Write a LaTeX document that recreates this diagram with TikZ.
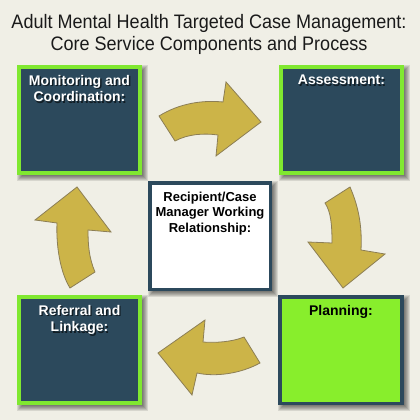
\documentclass[tikz,border=0pt]{standalone}
\usepackage{fontspec}
\setmainfont{Liberation Sans}
\definecolor{bgcol}{RGB}{240,239,230}
\definecolor{tealcol}{RGB}{44,73,92}
\definecolor{limecol}{RGB}{128,232,48}
\definecolor{planfill}{RGB}{136,238,44}
\definecolor{arrowfill}{RGB}{204,180,72}
\definecolor{arrowline}{RGB}{140,126,85}
\definecolor{titlecol}{RGB}{26,26,26}
\begin{document}
\begin{tikzpicture}[x=1pt,y=-1pt,
  stagebox/.style={draw=limecol, fill=tealcol, line width=4pt, minimum width=121pt, minimum height=106pt, inner sep=0pt},
  planbox/.style={draw=tealcol, fill=planfill, line width=3.5pt, minimum width=122pt, minimum height=106.5pt, inner sep=0pt},
  relbox/.style={draw=tealcol, fill=white, line width=3.5pt, minimum width=120.5pt, minimum height=106.5pt, inner sep=0pt},
  lbl/.style={font=\fontsize{14}{16.5}\selectfont\bfseries, align=center, inner sep=0pt, anchor=north},
  rellbl/.style={font=\fontsize{13}{15.5}\selectfont\bfseries, align=center, inner sep=0pt, anchor=north},
  lblshadow/.style={lbl, text=black, text opacity=0.6},
  cyclearrow/.style={fill=arrowfill, draw=arrowline, line width=0.8pt, line join=miter}
]
\fill[bgcol] (0,0) rectangle (420,420);
\useasboundingbox (0,0) rectangle (420,420);

% title
\node[font=\fontsize{19.5}{22}\selectfont, text=titlecol, align=center, inner sep=0pt, anchor=north] (title) at (209,14.5)
  {\scalebox{0.925}[1]{Adult Mental Health Targeted Case Management:}\\\scalebox{0.925}[1]{Core Service Components and Process}};

% soft shadows of the boxes
\foreach \xa/\ya/\xb/\yb in {17/65/142/175, 279/65/404/175, 17/295/142/405, 278/295/404/405, 148/181/272/291}{
  \foreach \k in {0,...,5}{
    \fill[black, opacity=0.1] (\xa+\k, \ya+\k) rectangle (\xb+6-\k, \yb+6-\k);
  }
}

% boxes
\node[stagebox] (mon) at (79.5,120) {};
\node[stagebox] (ass) at (341.5,120) {};
\node[stagebox] (ref) at (79.5,350) {};
\node[planbox] (plan) at (341,350) {};
\node[relbox] (rel) at (210,236) {};

% labels
\node[lblshadow] at ([xshift=1.3pt,yshift=-11.3pt]mon.north) {Monitoring and\\Coordination:};
\node[lbl, text=white] (monlbl) at ([yshift=-10pt]mon.north) {Monitoring and\\Coordination:};
\node[lblshadow] at ([xshift=1.3pt,yshift=-11.3pt]ass.north) {Assessment:};
\node[lbl, text=white] (asslbl) at ([yshift=-10pt]ass.north) {Assessment:};
\node[lblshadow] at ([xshift=1.3pt,yshift=-11.3pt]ref.north) {Referral and\\Linkage:};
\node[lbl, text=white] (reflbl) at ([yshift=-10pt]ref.north) {Referral and\\Linkage:};
\node[lbl, text=black] (planlbl) at ([yshift=-10.5pt]plan.north) {Planning:};
\node[rellbl, text=black] (rellbl) at ([yshift=-10.5pt]rel.north) {Recipient/Case\\Manager Working\\Relationship:};

% curved arrows of the cycle
% top: Monitoring -> Assessment
\draw[cyclearrow] (159,116) .. controls (180,103) and (203,100) .. (223,102) -- (226,82) -- (261,122) -- (216,156) -- (218,135)
  .. controls (204,133) and (188,134) .. (175,141) -- cycle;
% right: Assessment -> Planning
\draw[cyclearrow] (350,187) .. controls (360,210) and (362,230) .. (361,250) -- (385,254) -- (343,288) -- (308,242) -- (332,243)
  .. controls (332,225) and (331,212) .. (325,203) -- cycle;
% bottom: Planning -> Referral
\draw[cyclearrow] (244,337) .. controls (232,342) and (215,343) .. (203,342) -- (205,320) -- (158,353) -- (192,395) -- (197,373)
  .. controls (215,377) and (240,374) .. (260,363) -- cycle;
% left: Referral -> Monitoring
\draw[cyclearrow] (95,272) .. controls (89,258) and (88,245) .. (88,230) -- (111,232) -- (77,187) -- (35,220) -- (57,223)
  .. controls (56,245) and (60,272) .. (70,288) -- cycle;
\end{tikzpicture}
\end{document}
